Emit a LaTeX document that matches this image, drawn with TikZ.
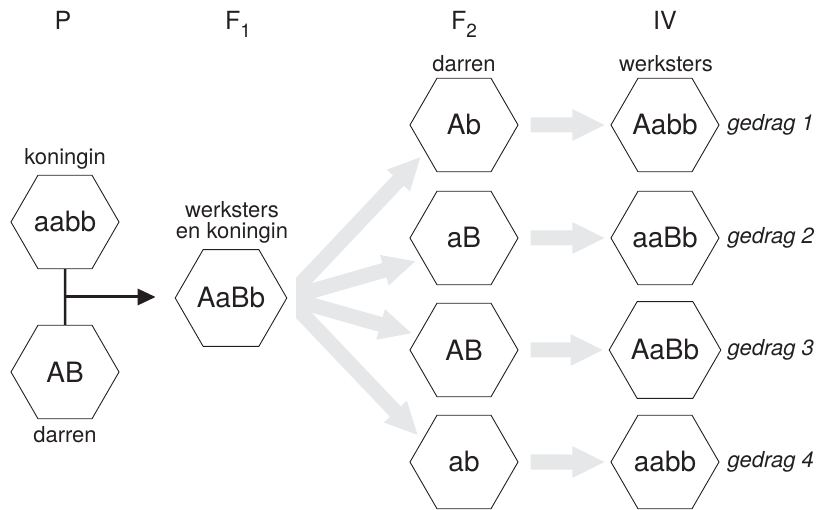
\documentclass[tikz,border=0pt]{standalone}
\usepackage{fontspec}
\setmainfont{TeX Gyre Heros}
\usetikzlibrary{calc}
\usetikzlibrary{arrows.meta}
\usetikzlibrary{shapes.geometric}
\usepackage{xcolor}
\definecolor{fangray}{HTML}{E6E7E8}
\definecolor{ink}{HTML}{231F20}
\newcommand{\genidx}[1]{\raisebox{-0.3em}{\fontsize{19}{19}\selectfont #1}}

\begin{document}
\begin{tikzpicture}[x=1pt,y=-1pt,color=ink,
 hexa/.style={regular polygon,regular polygon sides=6,draw,line width=.9pt,
   minimum size=108pt,inner sep=0pt,font=\fontsize{28}{28}\selectfont},
 lbl/.style={font=\fontsize{22}{21}\selectfont,align=center},
 hdr/.style={font=\fontsize{25}{25}\selectfont,anchor=base},
 gedrag/.style={font=\fontsize{22}{22}\selectfont\itshape,anchor=west},
 fat/.style={fangray,line width=15pt,-{Triangle[length=33pt,width=29pt]}}]
\useasboundingbox (0,0) rectangle (822,510);
% kolomkoppen
\node[hdr] (hp) at (63,30) {P};
\node[hdr] (hf1) at (238,30) {F\genidx{1}};
\node[hdr] (hf2) at (464,30) {F\genidx{2}};
\node[hdr] (hiv) at (665,30) {IV};
% ouders
\node[hexa] (pq) at (65,222) {aabb};
\node[hexa] (pd) at (65,372) {AB};
\node[lbl] (lq) at (65,159) {koningin};
\node[lbl] (ld) at (65,435) {darren};
% F1
\node[hexa] (fk) at (231,298) {AaBb};
\node[lbl] (lk) at (232,222) {werksters\\en koningin};
\node[lbl] (ldar) at (464,64) {darren};
\node[lbl] (lwerk) at (666,64) {werksters};
\foreach \n/\f/\w/\y in {1/Ab/Aabb/125, 2/aB/aaBb/238, 3/AB/AaBb/350, 4/ab/aabb/462} {
 \node[hexa] (d\n) at (464,\y) {\f};
 \node[hexa] (w\n) at (665,\y) {\w};
 \node[gedrag] (g\n) at (724,\y) {gedrag \n};
 \draw[fat,shorten <=12pt,shorten >=5pt] (d\n) -- (w\n);
 }
% waaier
\begin{scope}
\clip (296,0) rectangle (822,510);
\foreach \n/\a in {1/215, 2/207, 3/162, 4/152}
 \draw[fat,shorten >=6pt] (fk.east) -- (d\n.\a);
\end{scope}
% kruising
\coordinate (mid) at ($(pq.south)!.5!(pd.north)$);
\draw[line width=2.5pt] (pq) -- (pd);
\draw[line width=3pt,-{Triangle[length=18pt,width=16pt]},shorten >=19pt] (mid) -- (mid -| fk.west);
\end{tikzpicture}
\end{document}
